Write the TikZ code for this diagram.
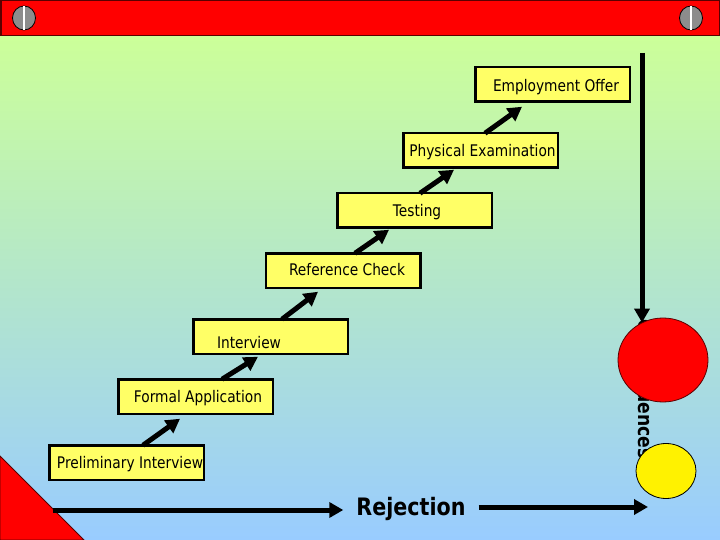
\documentclass[tikz,border=0pt]{standalone}
\usepackage{fontspec}
\setmainfont{DejaVu Sans}[FakeStretch=0.86]
\usetikzlibrary{arrows.meta,calc,shapes.geometric}
\definecolor{boxyellow}{RGB}{255,255,102}
\definecolor{bggreen}{RGB}{204,255,153}
\definecolor{bgblue}{RGB}{153,204,255}
\definecolor{bardark}{RGB}{90,0,0}
\definecolor{screwgray}{RGB}{140,140,140}
\tikzset{
  stepbox/.style={draw=black, line width=2.5pt, fill=boxyellow, minimum width=154.5pt, minimum height=34.5pt, inner sep=0pt, outer sep=0pt},
  steptext/.style={anchor=base, inner sep=0pt, font=\fontsize{16}{19}\selectfont},
  thickarrow/.style={line width=5pt, -{Triangle[length=14pt,width=15pt]}},
  screw/.style={ellipse, draw=black, line width=0.8pt, fill=screwgray, minimum width=23pt, minimum height=24pt, inner sep=0pt},
  bigbold/.style={inner sep=0pt, font=\bfseries\fontsize{24}{28}\selectfont},
}
\begin{document}
\begin{tikzpicture}[x=1pt,y=-1pt]
\useasboundingbox (0,0) rectangle (720,540);
% background
\shade[top color=bggreen, bottom color=bgblue] (0,36) rectangle (720,540);
% top bar
\draw[bardark, line width=1.5pt, fill=red] (0.75,0.75) rectangle (719.25,35.5);
\node[screw] (screwl) at (24,18) {};
\draw[white, line width=2pt] (screwl.north) -- (screwl.south);
\node[screw] (screwr) at (691,18) {};
\draw[white, line width=2pt] (screwr.north) -- (screwr.south);
% red corner triangle
\draw[fill=red, draw=bardark, line width=0.8pt] (0,456) -- (84,540) -- (0,540) -- cycle;
\coordinate (rstart) at (53,510);
% step boxes
\node[stepbox] (pi) at (126.5,462.5) {};
\node[stepbox] (fa) at (195.5,396.5) {};
\node[stepbox] (iv) at (270.5,336.5) {};
\node[stepbox] (rc) at (343,270.5) {};
\node[stepbox] (te) at (414.5,210.5) {};
\node[stepbox] (pe) at (480.5,150.5) {};
\node[stepbox] (eo) at (552.5,84.5) {};
\node[steptext] (tpi) at (130,468.5) {Preliminary Interview};
\node[steptext] (tfa) at (198,402) {Formal Application};
\node[steptext] (tiv) at (249,348) {Interview};
\node[steptext] (trc) at (347,275) {Reference Check};
\node[steptext] (tte) at (417,217) {Testing};
\node[steptext] (tpe) at (482.5,157) {Physical Examination};
\node[steptext] (teo) at (556,91.5) {Employment Offer};
% step arrows
\draw[thickarrow] ($(pi.north)+(16.5,0)$) -- ($(fa.south)+(-15.5,5)$);
\draw[thickarrow] ($(fa.north)+(26.5,0)$) -- ($(iv.south)+(-12.5,3)$);
\draw[thickarrow] ($(iv.north)+(11.5,0)$) -- ($(rc.south)+(-25,4)$);
\draw[thickarrow] ($(rc.north)+(12,0)$) -- ($(te.south)+(-25.5,2)$);
\draw[thickarrow] ($(te.north)+(5.5,0)$) -- ($(pe.south)+(-26.5,2)$);
\draw[thickarrow] ($(pe.north)+(4.5,0)$) -- ($(eo.south)+(-30.5,5)$);
% rotated word behind circles
\node[inner sep=0pt, font=\bfseries\fontsize{20}{24}\selectfont, rotate=-90, anchor=base east] (cons) at (638,459) {Consequences};
% circles
\node[ellipse, draw=bardark, line width=0.8pt, fill=red, minimum width=90pt, minimum height=84pt, inner sep=0pt] (stopc) at (663,360) {};
\node[ellipse, draw=black, line width=0.8pt, fill=yellow, minimum width=60pt, minimum height=55pt, inner sep=0pt] (goc) at (666,471) {};
% vertical arrow
\coordinate (vtop) at (642,53);
\draw[thickarrow] (vtop) -- ($(stopc.north)+(-21,5)$);
% rejection line
\node[bigbold, anchor=base] (rej) at (411,515) {Rejection};
\coordinate (rfin) at (648,507);
\draw[thickarrow, shorten >=13pt] (rstart) -- (rstart -| rej.west);
\draw[thickarrow, shorten <=13pt] (rfin -| rej.east) -- (rfin);
\end{tikzpicture}
\end{document}
